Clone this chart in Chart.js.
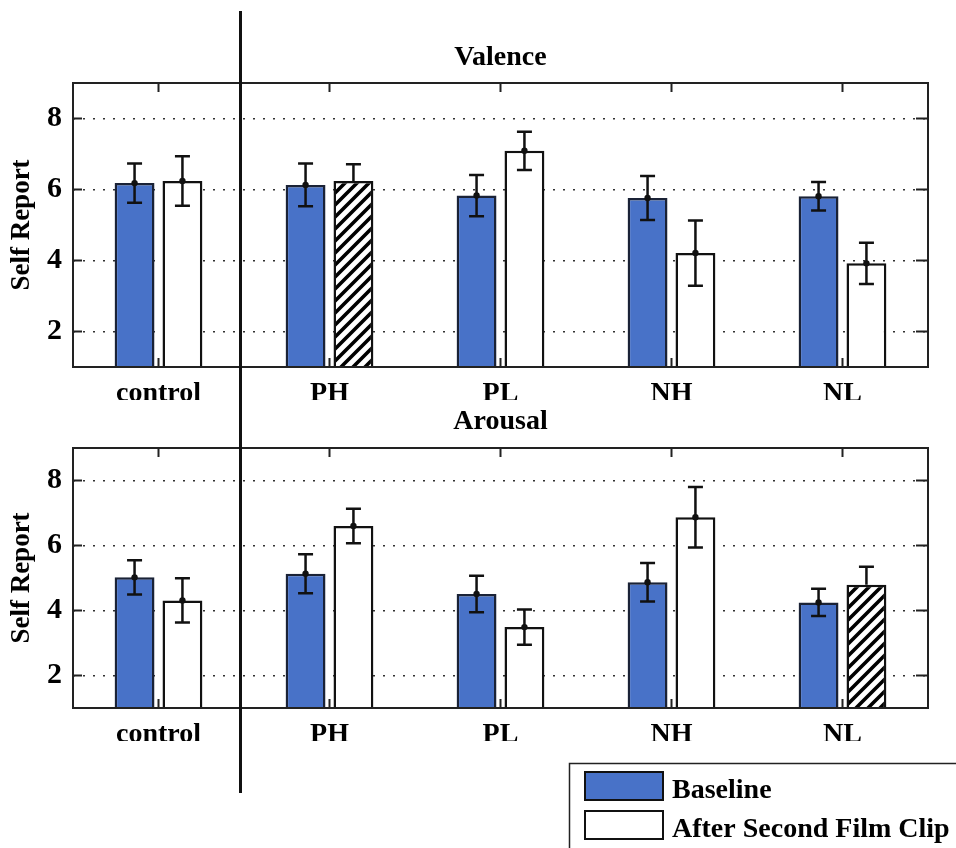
<!DOCTYPE html>
<html>
<head>
<meta charset="utf-8">
<script src="https://cdn.jsdelivr.net/npm/chart.js@4.4.1/dist/chart.umd.min.js"></script>
<style>
  html, body { margin: 0; padding: 0; background: #fff; }
  #wrap { position: relative; width: 956px; height: 848px; overflow: hidden; background: #fff; }
  canvas { position: absolute; left: 0; }
  #valence { top: 0; }
  #arousal { top: 400px; }
</style>
</head>
<body>
<div id="wrap">
  <canvas id="valence" width="956" height="412"></canvas>
  <canvas id="arousal" width="956" height="448"></canvas>
</div>
<script>
// Conditions and series
const categories = ['control', 'PH', 'PL', 'NH', 'NL'];
const seriesNames = ['Baseline', 'After Second Film Clip'];
const yTicks = [2, 4, 6, 8];

// Valence self report (means and error half-widths)
const valenceBaseline = [6.18, 6.13, 5.83, 5.76, 5.81];
const valenceBaselineErr = [0.55, 0.60, 0.58, 0.62, 0.40];
const valenceAfter = [6.24, 6.24, 7.09, 4.21, 3.92];
const valenceAfterErr = [0.70, 0.47, 0.54, 0.92, 0.58];
const valenceHatched = [false, true, false, false, false];

// Arousal self report (means and error half-widths)
const arousalBaseline = [5.02, 5.13, 4.51, 4.87, 4.25];
const arousalBaselineErr = [0.53, 0.60, 0.56, 0.59, 0.42];
const arousalAfter = [4.31, 6.60, 3.49, 6.87, 4.79];
const arousalAfterErr = [0.68, 0.53, 0.54, 0.93, 0.56];
const arousalHatched = [false, false, false, false, true];

const FONT = '"Liberation Serif", "Times New Roman", serif';
const BLUE = '#4872c8';
const INK = '#111';

function makeHatch(ctx) {
  const tile = document.createElement('canvas');
  tile.width = 12; tile.height = 12;
  const g = tile.getContext('2d');
  g.fillStyle = '#fff';
  g.fillRect(0, 0, 12, 12);
  g.strokeStyle = '#000';
  g.lineWidth = 3.6;
  g.beginPath();
  g.moveTo(-6, 18); g.lineTo(18, -6);
  g.moveTo(-12, 12); g.lineTo(12, -12);
  g.moveTo(0, 24); g.lineTo(24, 0);
  g.stroke();
  return ctx.createPattern(tile, 'repeat');
}

// Error bars with a mean marker; on hatched bars only the upper whisker shows
const errorBars = {
  id: 'errorBars',
  afterDatasetsDraw(chart) {
    const ctx = chart.ctx, ys = chart.scales.y;
    const cap = 7.5;
    chart.data.datasets.forEach((ds, di) => {
      const meta = chart.getDatasetMeta(di);
      meta.data.forEach((bar, i) => {
        const v = ds.data[i], e = ds.errors[i];
        const hatched = ds.hatched && ds.hatched[i];
        const x = bar.x;
        const yTop = ys.getPixelForValue(v + e);
        const yBot = ys.getPixelForValue(v - e);
        const yMid = ys.getPixelForValue(v);
        ctx.save();
        ctx.strokeStyle = INK;
        ctx.lineWidth = 2.5;
        ctx.beginPath();
        ctx.moveTo(x, yTop); ctx.lineTo(x, hatched ? yMid : yBot);
        ctx.moveTo(x - cap, yTop); ctx.lineTo(x + cap, yTop);
        if (!hatched) { ctx.moveTo(x - cap, yBot); ctx.lineTo(x + cap, yBot); }
        ctx.stroke();
        if (!hatched) {
          ctx.fillStyle = INK;
          ctx.beginPath();
          ctx.arc(x, yMid, 3.2, 0, Math.PI * 2);
          ctx.fill();
        }
        ctx.restore();
      });
    });
  }
};

// Axes box with inward ticks, plus the separator after the control group
const frame = {
  id: 'frame',
  afterDraw(chart, args, opts) {
    const ctx = chart.ctx, a = chart.chartArea;
    const xs = chart.scales.x, ys = chart.scales.y;
    const tl = 9;
    ctx.save();
    ctx.strokeStyle = '#222';
    ctx.lineWidth = 2;
    ctx.strokeRect(a.left, a.top, a.right - a.left, a.bottom - a.top);
    ctx.beginPath();
    xs.ticks.forEach((t, i) => {
      const px = xs.getPixelForTick(i);
      ctx.moveTo(px, a.top); ctx.lineTo(px, a.top + tl);
      ctx.moveTo(px, a.bottom); ctx.lineTo(px, a.bottom - tl);
    });
    ys.ticks.forEach(t => {
      const py = ys.getPixelForValue(t.value);
      ctx.moveTo(a.left, py); ctx.lineTo(a.left + tl, py);
      ctx.moveTo(a.right, py); ctx.lineTo(a.right - tl - 3, py);
    });
    ctx.stroke();
    ctx.strokeStyle = INK;
    ctx.lineWidth = 3;
    ctx.beginPath();
    ctx.moveTo(240.5, opts.sepTop);
    ctx.lineTo(240.5, opts.sepBottom);
    ctx.stroke();
    ctx.restore();
  }
};

// Legend box drawn from the dataset styles
const boxLegend = {
  id: 'boxLegend',
  afterDraw(chart, args, opts) {
    if (!opts.show) return;
    const ctx = chart.ctx;
    ctx.save();
    ctx.strokeStyle = '#222';
    ctx.lineWidth = 1.5;
    ctx.strokeRect(569.5, 363.5, 420, 120);
    const rows = [372, 411];
    chart.data.datasets.forEach((ds, di) => {
      const y0 = rows[di];
      ctx.fillStyle = di === 0 ? ds.backgroundColor : '#fff';
      ctx.fillRect(585, y0, 78, 28);
      ctx.strokeStyle = INK;
      ctx.lineWidth = 2;
      ctx.strokeRect(585, y0, 78, 28);
      ctx.fillStyle = '#000';
      ctx.font = 'bold 28px ' + FONT;
      ctx.textBaseline = 'alphabetic';
      ctx.textAlign = 'left';
      ctx.fillText(ds.label, 672, y0 + 26);
    });
    ctx.restore();
  }
};

function buildChart(canvas, title, base, baseErr, after, afterErr, hatched, geom) {
  const ctx = canvas.getContext('2d');
  const hatch = makeHatch(ctx);
  const tickFont = { family: FONT, size: 28, weight: 'bold' };
  return new Chart(canvas, {
    type: 'bar',
    data: {
      labels: categories,
      datasets: [
        {
          label: seriesNames[0], data: base, errors: baseErr,
          backgroundColor: BLUE, borderColor: '#1a2236', borderWidth: 2.5, borderSkipped: false,
          categoryPercentage: 0.56, barPercentage: 0.833
        },
        {
          label: seriesNames[1], data: after, errors: afterErr, hatched: hatched,
          backgroundColor: hatched.map(h => h ? hatch : '#fff'),
          borderColor: INK, borderWidth: 2.5, borderSkipped: false,
          categoryPercentage: 0.56, barPercentage: 0.833
        }
      ]
    },
    options: {
      responsive: false,
      animation: false,
      devicePixelRatio: 1,
      layout: { padding: { left: 0, right: 28, top: 0, bottom: geom.bottomPad } },
      plugins: {
        legend: { display: false },
        tooltip: { enabled: false },
        title: {
          display: true, text: title, fullSize: false, color: '#000',
          font: { family: FONT, size: 28, weight: 'bold', lineHeight: 1.2 },
          padding: { top: geom.titleTop, bottom: geom.titleBottom }
        },
        frame: { sepTop: geom.sepTop, sepBottom: geom.sepBottom },
        boxLegend: { show: geom.legend }
      },
      scales: {
        x: {
          grid: { display: false, drawTicks: false },
          border: { display: false },
          ticks: { color: '#000', font: tickFont, padding: 10, maxRotation: 0, autoSkip: false },
          afterFit(s) { s.height = 33; }
        },
        y: {
          min: 1, max: 9,
          afterBuildTicks(s) { s.ticks = yTicks.map(v => ({ value: v })); },
          grid: { color: '#333', lineWidth: 1.5, drawTicks: false },
          border: { display: false, dash: [2, 8] },
          ticks: { color: '#000', font: { family: FONT, size: 30, weight: 'bold' }, padding: 11 },
          title: {
            display: true, text: 'Self Report', color: '#000',
            font: { family: FONT, size: 27, weight: 'bold' },
            padding: { top: 6, bottom: 0 }
          },
          afterFit(s) { s.width = 73; }
        }
      }
    },
    plugins: [errorBars, frame, boxLegend]
  });
}

buildChart(document.getElementById('valence'), 'Valence',
  valenceBaseline, valenceBaselineErr, valenceAfter, valenceAfterErr, valenceHatched,
  { bottomPad: 12, titleTop: 41.2, titleBottom: 8.2, sepTop: 11, sepBottom: 400, legend: false });

buildChart(document.getElementById('arousal'), 'Arousal',
  arousalBaseline, arousalBaselineErr, arousalAfter, arousalAfterErr, arousalHatched,
  { bottomPad: 107, titleTop: 5.2, titleBottom: 9.2, sepTop: 0, sepBottom: 393, legend: true });
</script>
</body>
</html>
